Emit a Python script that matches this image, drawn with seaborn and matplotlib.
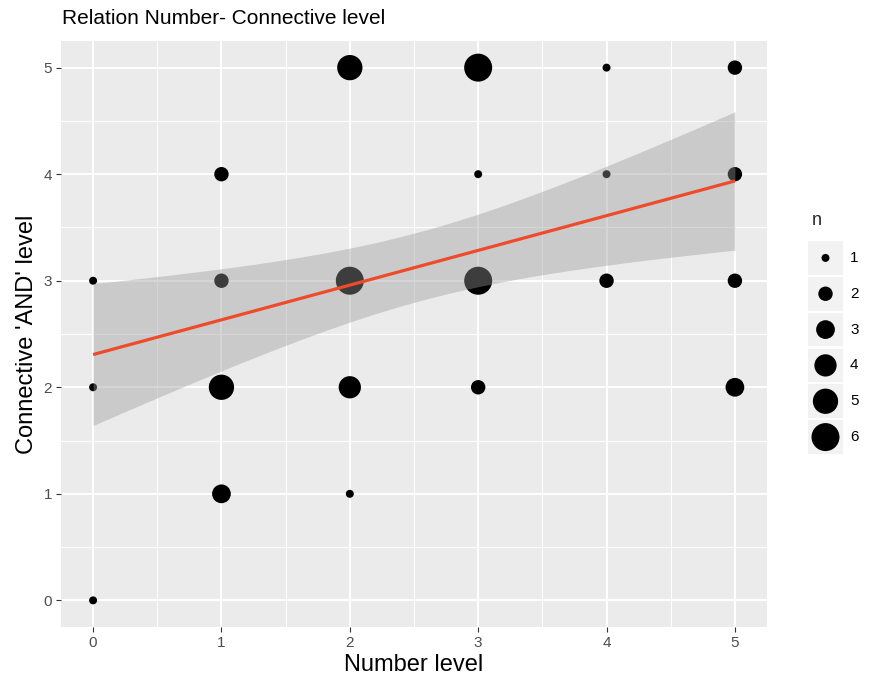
import numpy as np
import pandas as pd
import matplotlib
matplotlib.use("Agg")
import matplotlib.pyplot as plt
import seaborn as sns
from matplotlib.patches import Rectangle

# Counts of children at each (number level, connective 'AND' level) combination
number_level = [0, 0, 0, 1, 1, 1, 1, 2, 2, 2, 2, 3, 3, 3, 3, 4, 4, 4, 5, 5, 5, 5]
and_level    = [0, 2, 3, 1, 2, 3, 4, 1, 2, 3, 5, 2, 3, 4, 5, 3, 4, 5, 2, 3, 4, 5]
n_count      = [1, 1, 1, 3, 5, 2, 2, 1, 4, 6, 5, 2, 6, 1, 6, 2, 1, 1, 3, 2, 2, 2]
legend_levels = [1, 2, 3, 4, 5, 6]
x_ticks = [0, 1, 2, 3, 4, 5]
y_ticks = [0, 1, 2, 3, 4, 5]

sns.set_theme(style="darkgrid")
plt.rcParams["font.family"] = ["Liberation Sans", "DejaVu Sans"]

df = pd.DataFrame({"number": number_level, "conn": and_level, "n": n_count})

W, H = 871, 685
fig = plt.figure(figsize=(W / 100, H / 100), dpi=100)
fig.patch.set_facecolor("white")
ax = fig.add_axes([61 / W, 1 - 627 / H, 706 / W, 586 / H])
ax.set_facecolor("#EBEBEB")

SIZES = (33, 406)
NORM = (1, 6)

sns.scatterplot(data=df, x="number", y="conn", size="n", sizes=SIZES,
                size_norm=NORM, color="black", linewidth=0, legend=False,
                ax=ax, zorder=2)

# Linear fit on the individual observations (each point repeated n times)
xs_obs = np.repeat(np.array(number_level, float), n_count)
ys_obs = np.repeat(np.array(and_level, float), n_count)
N = len(xs_obs)
slope, intercept = np.polyfit(xs_obs, ys_obs, 1)
resid = ys_obs - (intercept + slope * xs_obs)
s = np.sqrt(np.sum(resid ** 2) / (N - 2))
xbar = xs_obs.mean()
sxx = np.sum((xs_obs - xbar) ** 2)
dof = N - 2
z = 1.959964
t_q = z + (z ** 3 + z) / (4 * dof) + (5 * z ** 5 + 16 * z ** 3 + 3 * z) / (96 * dof ** 2)

xg = np.linspace(min(number_level), max(number_level), 100)
fit = intercept + slope * xg
se = s * np.sqrt(1 / N + (xg - xbar) ** 2 / sxx)
ax.fill_between(xg, fit - t_q * se, fit + t_q * se, color="#999999",
                alpha=0.4, linewidth=0, zorder=3)
ax.plot(xg, fit, color="#EE4B2B", linewidth=2.3, zorder=4,
        solid_capstyle="butt")

ax.set_xlim(-0.25, 5.25)
ax.set_ylim(-0.25, 5.25)
ax.set_xticks(x_ticks)
ax.set_yticks(y_ticks)
ax.set_xticks(np.arange(0.5, 5, 1), minor=True)
ax.set_yticks(np.arange(0.5, 5, 1), minor=True)
ax.grid(which="major", color="white", linewidth=1.4)
ax.grid(which="minor", color="white", linewidth=0.7)
ax.set_axisbelow(True)
for sp in ax.spines.values():
    sp.set_visible(False)
ax.tick_params(which="major", length=3.5, width=0.8, color="#333333",
               labelcolor="#4D4D4D", labelsize=11, pad=3,
               bottom=True, left=True)
ax.tick_params(which="minor", length=0)

ax.set_xlabel("Number level", fontsize=17, color="black", labelpad=3)
ax.set_ylabel("Connective 'AND' level", fontsize=17, color="black", labelpad=4)

fig.text(62 / W, 1 - 18 / H, "Relation Number- Connective level",
         fontsize=15, ha="left", va="center", color="black")

# Size legend in the right margin
ax_leg = fig.add_axes([808 / W, 1 - 455 / H, 35 / W, 215 / H])
ax_leg.set_xlim(0, 1)
ax_leg.set_ylim(6, 0)
ax_leg.axis("off")
for i in range(len(legend_levels)):
    ax_leg.add_patch(Rectangle((0, i + 0.03), 1, 0.94, facecolor="#F2F2F2",
                               edgecolor="none", zorder=0))
leg_df = pd.DataFrame({"x": [0.5] * len(legend_levels),
                       "y": [i + 0.5 for i in range(len(legend_levels))],
                       "n": legend_levels})
sns.scatterplot(data=leg_df, x="x", y="y", size="n", sizes=SIZES,
                size_norm=NORM, color="black", linewidth=0, legend=False,
                ax=ax_leg, zorder=2, clip_on=False)
for i, lv in enumerate(legend_levels):
    ax_leg.text(1.2, i + 0.5, str(lv), fontsize=11, color="black",
                ha="left", va="center", clip_on=False)
fig.text(812 / W, 1 - 220 / H, "n", fontsize=13, ha="left", va="center")

fig.savefig("out.png", dpi=100)
